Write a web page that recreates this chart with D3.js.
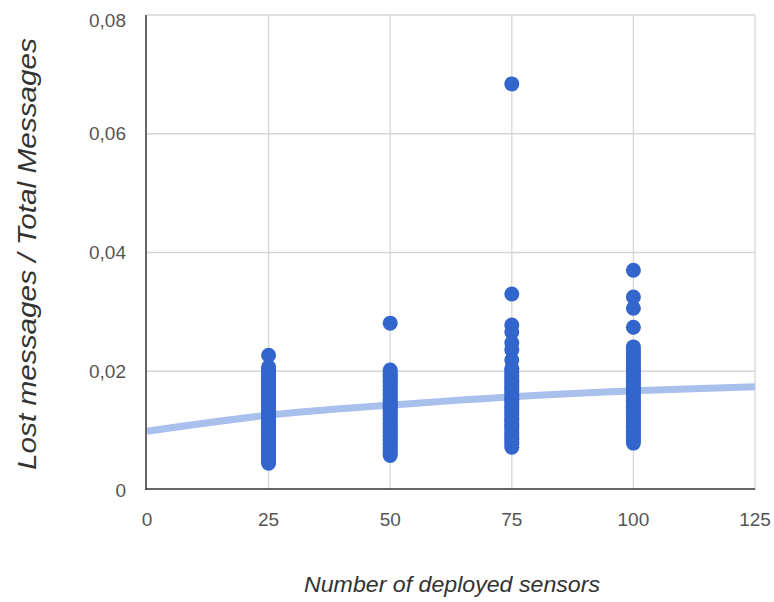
<!DOCTYPE html>
<html>
<head>
<meta charset="utf-8">
<script src="https://cdn.jsdelivr.net/npm/d3@7/dist/d3.min.js"></script>
<style>
  body { margin: 0; background: #fff; }
  svg { display: block; font-family: "Liberation Sans", Arial, sans-serif; }
</style>
</head>
<body>
<svg id="chart"></svg>
<script>
// deployed sensors -> ratio of lost messages (one run per point)
var sensors = [25, 50, 75, 100];
var ratios25 = [0.0227, 0.0207, 0.0203, 0.0199, 0.0195, 0.0192, 0.0188, 0.0185, 0.0181, 0.0178, 0.0174, 0.0171, 0.0167, 0.0164, 0.0160, 0.0157, 0.0153, 0.0150, 0.0146, 0.0143, 0.0139, 0.0136, 0.0132, 0.0129, 0.0125, 0.0122, 0.0118, 0.0115, 0.0111, 0.0108, 0.0104, 0.0101, 0.0097, 0.0094, 0.0090, 0.0087, 0.0083, 0.0080, 0.0076, 0.0073, 0.0069, 0.0066, 0.0062, 0.0059, 0.0055, 0.0052, 0.0048, 0.0045];
var ratios50 = [0.0281, 0.0202, 0.0198, 0.0195, 0.0191, 0.0188, 0.0184, 0.0181, 0.0177, 0.0174, 0.0170, 0.0167, 0.0163, 0.0160, 0.0156, 0.0153, 0.0149, 0.0146, 0.0142, 0.0139, 0.0135, 0.0132, 0.0128, 0.0125, 0.0121, 0.0118, 0.0114, 0.0111, 0.0107, 0.0104, 0.0100, 0.0097, 0.0093, 0.0090, 0.0086, 0.0083, 0.0079, 0.0076, 0.0072, 0.0069, 0.0065, 0.0062, 0.0058];
var ratios75 = [0.0684, 0.0330, 0.0278, 0.0266, 0.0248, 0.0236, 0.0219, 0.0205, 0.0201, 0.0197, 0.0193, 0.0189, 0.0185, 0.0181, 0.0177, 0.0173, 0.0169, 0.0165, 0.0161, 0.0157, 0.0153, 0.0149, 0.0145, 0.0141, 0.0137, 0.0133, 0.0129, 0.0125, 0.0121, 0.0117, 0.0113, 0.0109, 0.0105, 0.0101, 0.0097, 0.0093, 0.0089, 0.0085, 0.0081, 0.0077, 0.0072];
var ratios100 = [0.0370, 0.0325, 0.0306, 0.0274, 0.0241, 0.0235, 0.0230, 0.0225, 0.0221, 0.0216, 0.0212, 0.0207, 0.0203, 0.0199, 0.0195, 0.0191, 0.0187, 0.0183, 0.0179, 0.0175, 0.0171, 0.0167, 0.0163, 0.0159, 0.0155, 0.0151, 0.0147, 0.0143, 0.0139, 0.0135, 0.0131, 0.0127, 0.0123, 0.0119, 0.0115, 0.0111, 0.0107, 0.0103, 0.0099, 0.0095, 0.0091, 0.0087, 0.0083, 0.0079];

// trendline read at the grid columns
var trendX = [0, 25, 50, 75, 100, 125];
var trendY = [0.0099, 0.0126, 0.0143, 0.0157, 0.0167, 0.0174];

var xTicks = [0, 25, 50, 75, 100, 125];
var yTicks = [0, 0.02, 0.04, 0.06, 0.08];
var yTickLabels = ["0", "0,02", "0,04", "0,06", "0,08"];

var width = 774, height = 602;
var plotLeft = 147, plotRight = 755, plotTop = 15, plotBottom = 490;

var svg = d3.select("#chart")
  .attr("width", width)
  .attr("height", height);

var x = d3.scaleLinear().domain([0, 125]).range([plotLeft, plotRight]);
var y = d3.scaleLinear().domain([0, 0.08]).range([plotBottom, plotTop]);

// gridlines
svg.append("g")
  .selectAll("line")
  .data(xTicks.slice(1))
  .enter()
  .append("line")
  .attr("x1", function (d) { return x(d); })
  .attr("x2", function (d) { return x(d); })
  .attr("y1", plotTop)
  .attr("y2", plotBottom)
  .attr("stroke", "#d6d6d6")
  .attr("stroke-width", 1.3);

svg.append("g")
  .selectAll("line")
  .data(yTicks.slice(1))
  .enter()
  .append("line")
  .attr("x1", plotLeft)
  .attr("x2", plotRight)
  .attr("y1", function (d) { return y(d); })
  .attr("y2", function (d) { return y(d); })
  .attr("stroke", "#d6d6d6")
  .attr("stroke-width", 1.3);

// trendline
var trend = trendX.map(function (d, i) { return [d, trendY[i]]; });
var line = d3.line()
  .x(function (d) { return x(d[0]); })
  .y(function (d) { return y(d[1]); })
  .curve(d3.curveMonotoneX);

svg.append("path")
  .datum(trend)
  .attr("d", line)
  .attr("fill", "none")
  .attr("stroke", "#a9bfec")
  .attr("stroke-width", 7);

// points
var columns = [ratios25, ratios50, ratios75, ratios100];
var points = [];
columns.forEach(function (col, i) {
  col.forEach(function (v) { points.push({ x: sensors[i], y: v }); });
});

svg.append("g")
  .selectAll("circle")
  .data(points)
  .enter()
  .append("circle")
  .attr("cx", function (d) { return x(d.x); })
  .attr("cy", function (d) { return y(d.y); })
  .attr("r", 7.5)
  .attr("fill", "#3366cc");

// axis lines
svg.append("line")
  .attr("x1", plotLeft - 1).attr("x2", plotLeft - 1)
  .attr("y1", plotTop).attr("y2", plotBottom)
  .attr("stroke", "#333").attr("stroke-width", 1.5);
svg.append("line")
  .attr("x1", plotLeft - 1).attr("x2", plotRight)
  .attr("y1", plotBottom - 1).attr("y2", plotBottom - 1)
  .attr("stroke", "#333").attr("stroke-width", 1.5);

// tick labels
svg.selectAll(".ylab")
  .data(yTicks)
  .enter()
  .append("text")
  .attr("class", "ylab")
  .attr("x", 126)
  .attr("y", function (d, i) { return i == yTicks.length - 1 ? y(d) + 5 : y(d); })
  .attr("dy", "0.35em")
  .attr("text-anchor", "end")
  .attr("fill", "#555")
  .style("font-size", "19px")
  .text(function (d, i) { return yTickLabels[i]; });

svg.selectAll(".xlab")
  .data(xTicks)
  .enter()
  .append("text")
  .attr("class", "xlab")
  .attr("x", function (d) { return x(d); })
  .attr("y", 519)
  .attr("dy", "0.35em")
  .attr("text-anchor", "middle")
  .attr("fill", "#555")
  .style("font-size", "19px")
  .text(function (d) { return d; });

// axis titles
svg.append("text")
  .attr("x", 452)
  .attr("y", 592)
  .attr("text-anchor", "middle")
  .attr("fill", "#333")
  .style("font-size", "22px")
  .style("font-style", "italic")
  .attr("textLength", 296)
  .attr("lengthAdjust", "spacingAndGlyphs")
  .text("Number of deployed sensors");

svg.append("text")
  .attr("transform", "translate(36," + 254 + ") rotate(-90)")
  .attr("text-anchor", "middle")
  .attr("fill", "#333")
  .style("font-size", "26px")
  .style("font-style", "italic")
  .attr("textLength", 432)
  .attr("lengthAdjust", "spacingAndGlyphs")
  .text("Lost messages / Total Messages");
</script>
</body>
</html>
